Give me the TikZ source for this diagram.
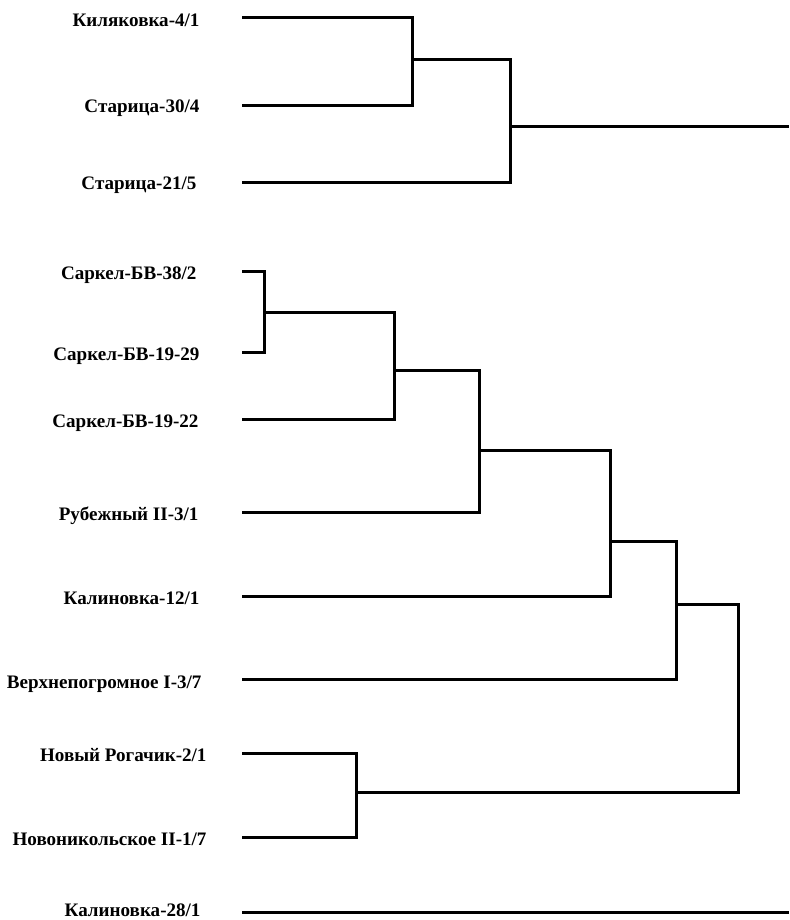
\documentclass[tikz,border=0pt]{standalone}
\usepackage{fontspec}
\setmainfont{Liberation Serif}
\begin{document}
\begin{tikzpicture}[x=0.75pt, y=-0.75pt, line width=2.25pt,
                    line cap=butt, line join=miter,
                    lab/.style={anchor=base east, inner sep=0pt,
                                font=\bfseries\fontsize{14.3}{17}\selectfont}]
  \useasboundingbox (0,0) rectangle (789,920);

  % Leaf ends (left end of every branch)
  \coordinate (s1)  at (242, 18);
  \coordinate (s2)  at (242, 106);
  \coordinate (s3)  at (242, 182);
  \coordinate (s4)  at (242, 271);
  \coordinate (s5)  at (242, 352);
  \coordinate (s6)  at (242, 419);
  \coordinate (s7)  at (242, 512);
  \coordinate (s8)  at (242, 596);
  \coordinate (s9)  at (242, 679);
  \coordinate (s10) at (242, 753);
  \coordinate (s11) at (242, 837);
  \coordinate (s12) at (242, 912);

  % Merge points (where a joined branch leaves its bracket)
  \coordinate (m1) at (412, 60);
  \coordinate (m2) at (510, 127);
  \coordinate (m3) at (264, 312);
  \coordinate (m4) at (394, 370);
  \coordinate (m5) at (479, 450);
  \coordinate (m6) at (610, 541);
  \coordinate (m7) at (676, 604);
  \coordinate (m8) at (356, 792);
  \coordinate (m9) at (738, 700);

  % Right ends
  \coordinate (r1) at (789, 127);
  \coordinate (r2) at (789, 912);

  % Upper cluster
  \draw (s1) -| (m1) |- (s2);
  \draw (m1) -| (m2) |- (s3);
  \draw (m2) -- (r1);

  % Lower cluster
  \draw (s4) -| (m3) |- (s5);
  \draw (m3) -| (m4) |- (s6);
  \draw (m4) -| (m5) |- (s7);
  \draw (m5) -| (m6) |- (s8);
  \draw (m6) -| (m7) |- (s9);
  \draw (s10) -| (m8) |- (s11);
  \draw (m7) -| (m9) |- (m8);

  % Single leaf
  \draw (s12) -- (r2);

  % Leaf labels
  \node[lab] (t1)  at (201, 27)  {Киляковка-4/1};
  \node[lab] (t2)  at (201, 113) {Старица-30/4};
  \node[lab] (t3)  at (198, 190) {Старица-21/5};
  \node[lab] (t4)  at (198, 279) {Саркел-БВ-38/2};
  \node[lab] (t5)  at (201, 360) {Саркел-БВ-19-29};
  \node[lab] (t6)  at (200, 427) {Саркел-БВ-19-22};
  \node[lab] (t7)  at (200, 520) {Рубежный II-3/1};
  \node[lab] (t8)  at (201, 604) {Калиновка-12/1};
  \node[lab] (t9)  at (203, 688) {Верхнепогромное I-3/7};
  \node[lab] (t10) at (208, 761) {Новый Рогачик-2/1};
  \node[lab] (t11) at (208, 845) {Новоникольское II-1/7};
  \node[lab] (t12) at (202, 916) {Калиновка-28/1};
\end{tikzpicture}
\end{document}
